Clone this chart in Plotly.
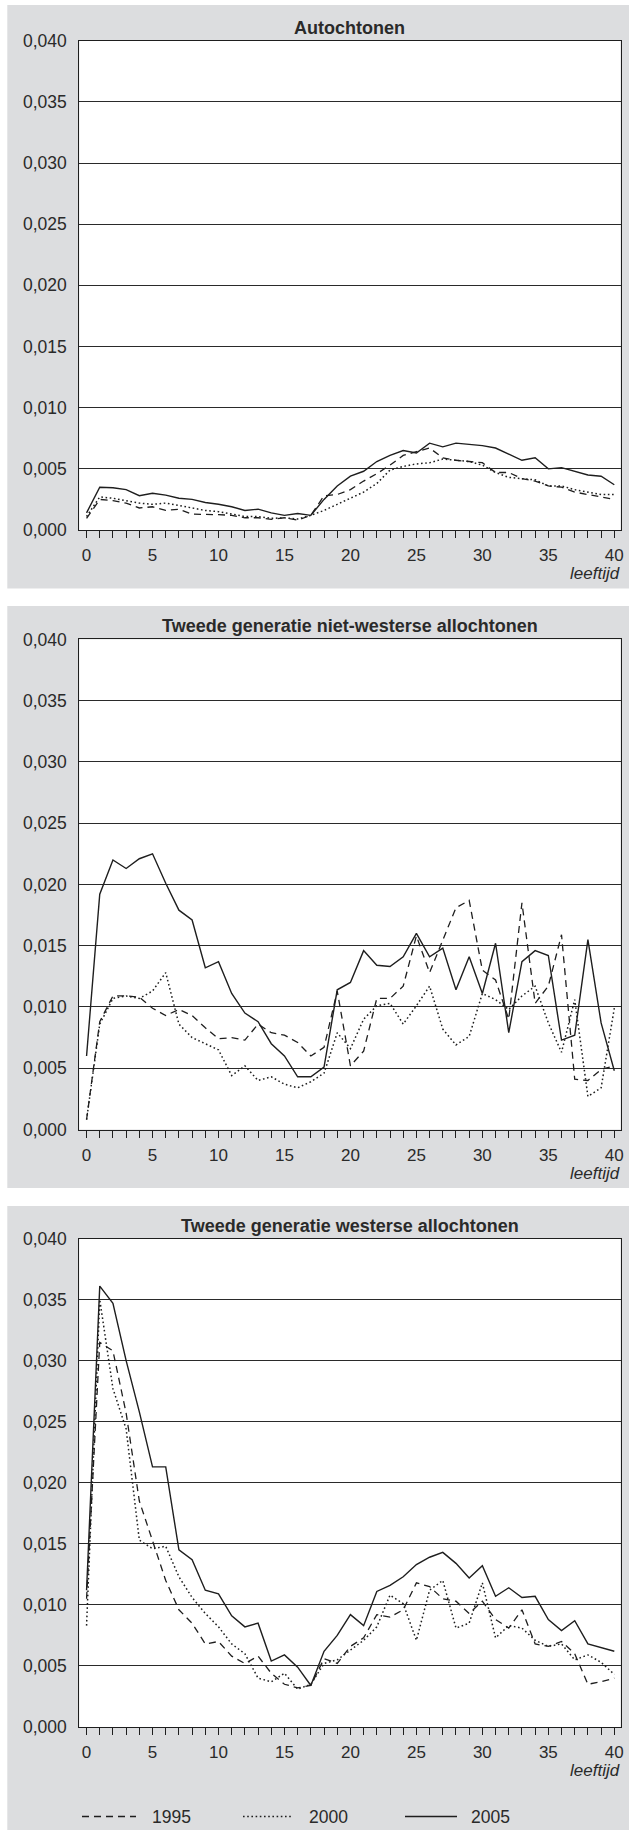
import plotly.graph_objects as go

W, H = 629, 1830

ages = list(range(0, 41))

panel_titles = [
    "Autochtonen",
    "Tweede generatie niet-westerse allochtonen",
    "Tweede generatie westerse allochtonen",
]
years = ["1995", "2000", "2005"]

# Panel 1: Autochtonen
auto_1995 = [0.00095, 0.0025, 0.0024, 0.0022, 0.0018, 0.0019, 0.0016, 0.0017, 0.0013, 0.0013,
             0.00125, 0.0012, 0.0010, 0.0010, 0.00087, 0.0010, 0.0008, 0.0012, 0.0028, 0.0029,
             0.0033, 0.0040, 0.0046, 0.0053, 0.0061, 0.0064, 0.0067, 0.0059, 0.0057, 0.0056,
             0.0055, 0.0047, 0.0047, 0.0042, 0.0040, 0.0036, 0.0035, 0.0031, 0.0029, 0.0027, 0.0025]
auto_2000 = [0.0011, 0.0027, 0.0026, 0.0024, 0.0022, 0.0021, 0.0022, 0.0020, 0.0018, 0.0016,
             0.0015, 0.0013, 0.0011, 0.0011, 0.00095, 0.0010, 0.0009, 0.0012, 0.0016, 0.0021,
             0.0026, 0.0031, 0.0038, 0.0049, 0.0052, 0.0054, 0.0055, 0.0058, 0.0057, 0.0056,
             0.0053, 0.0047, 0.0043, 0.0042, 0.0041, 0.0036, 0.0036, 0.0033, 0.0031, 0.0029, 0.0029]
auto_2005 = [0.0014, 0.0035, 0.00345, 0.0033, 0.0028, 0.0030, 0.00285, 0.0026, 0.0025, 0.00225,
             0.0021, 0.0019, 0.0016, 0.0017, 0.0014, 0.0012, 0.00135, 0.0012, 0.0025, 0.0036,
             0.0044, 0.0048, 0.0056, 0.0061, 0.0065, 0.0063, 0.0071, 0.0068, 0.0071, 0.0070,
             0.0069, 0.0067, 0.0062, 0.0057, 0.0059, 0.0050, 0.0051, 0.0048, 0.0045, 0.0044, 0.0037]

# Panel 2: Tweede generatie niet-westerse allochtonen
nw_1995 = [0.0008, 0.0088, 0.0109, 0.0109, 0.0108, 0.0099, 0.0093, 0.0098, 0.0093, 0.0083,
           0.0074, 0.0075, 0.0073, 0.0086, 0.0079, 0.0077, 0.0071, 0.0060, 0.0067, 0.0113,
           0.0052, 0.0064, 0.0107, 0.0107, 0.0117, 0.0158, 0.0128, 0.0155, 0.0181, 0.0187,
           0.0130, 0.0122, 0.0090, 0.0185, 0.0103, 0.0117, 0.0159, 0.0041, 0.0040, 0.0049, 0.0052]
nw_2000 = [0.0008, 0.0086, 0.0107, 0.0109, 0.0107, 0.0113, 0.0128, 0.0086, 0.0075, 0.0070,
           0.0065, 0.0044, 0.0052, 0.0040, 0.0043, 0.0037, 0.0034, 0.0039, 0.0046, 0.0079,
           0.0066, 0.0090, 0.0101, 0.0103, 0.0086, 0.0101, 0.0117, 0.0082, 0.0069, 0.0076,
           0.0111, 0.0106, 0.0098, 0.0109, 0.0117, 0.0087, 0.0063, 0.0106, 0.0027, 0.0034, 0.0099]
nw_2005 = [0.0060, 0.0192, 0.0220, 0.0213, 0.0221, 0.0225, 0.0201, 0.0179, 0.0171, 0.0132,
           0.0137, 0.0111, 0.0095, 0.0088, 0.0070, 0.0060, 0.0043, 0.0043, 0.0051, 0.0114,
           0.0120, 0.0146, 0.0134, 0.0133, 0.0141, 0.0160, 0.0141, 0.0148, 0.0114, 0.0141,
           0.0111, 0.0152, 0.0079, 0.0137, 0.0146, 0.0142, 0.0073, 0.0077, 0.0155, 0.0087, 0.0048]

# Panel 3: Tweede generatie westerse allochtonen
w_1995 = [0.0105, 0.0315, 0.0308, 0.0257, 0.0185, 0.0152, 0.0120, 0.0096, 0.0085, 0.0068,
          0.0070, 0.0058, 0.0052, 0.0058, 0.0044, 0.0035, 0.0032, 0.0034, 0.0056, 0.0052,
          0.0066, 0.0073, 0.0092, 0.0090, 0.0096, 0.0118, 0.0115, 0.0105, 0.0103, 0.0093,
          0.0103, 0.0088, 0.0081, 0.0096, 0.0068, 0.0066, 0.0070, 0.0060, 0.0035, 0.0037, 0.0040]
w_2000 = [0.0083, 0.0350, 0.0277, 0.0244, 0.0153, 0.0146, 0.0148, 0.0123, 0.0106, 0.0093,
          0.0082, 0.0068, 0.0060, 0.0040, 0.0037, 0.0044, 0.0031, 0.0035, 0.0052, 0.0055,
          0.0063, 0.0071, 0.0082, 0.0108, 0.0101, 0.0071, 0.0112, 0.0120, 0.0081, 0.0085,
          0.0118, 0.0073, 0.0083, 0.0081, 0.0071, 0.0066, 0.0068, 0.0055, 0.0059, 0.0053, 0.0043]
w_2005 = [0.0112, 0.0361, 0.0347, 0.0300, 0.0258, 0.0213, 0.0213, 0.0145, 0.0137, 0.0112,
          0.0109, 0.0091, 0.0082, 0.0085, 0.0054, 0.0059, 0.0049, 0.0034, 0.0062, 0.0075,
          0.0092, 0.0083, 0.0111, 0.0116, 0.0123, 0.0133, 0.0139, 0.0143, 0.0134, 0.0122,
          0.0132, 0.0107, 0.0114, 0.0106, 0.0107, 0.0088, 0.0079, 0.0087, 0.0068, 0.0065, 0.0062]

y_tick_vals = [0.000, 0.005, 0.010, 0.015, 0.020, 0.025, 0.030, 0.035, 0.040]
y_tick_labels = ["0,000", "0,005", "0,010", "0,015", "0,020", "0,025", "0,030", "0,035", "0,040"]
x_tick_vals = list(range(0, 41))
x_tick_labels = [str(v) if v % 5 == 0 else "" for v in x_tick_vals]
x_axis_label = "leeftijd"

panels = [
    [auto_1995, auto_2000, auto_2005],
    [nw_1995, nw_2000, nw_2005],
    [w_1995, w_2000, w_2005],
]

# ---- styling ----
FONT = "Liberation Sans, Arial, Helvetica, sans-serif"
INK = "#1e1e1e"
TXT = "#2a2a2a"
BG = "#dcdddf"
dash_styles = ["7px,5px", "1.6px,2.6px", "solid"]
line_widths = [1.3, 1.5, 1.4]

# pixel layout (top/bottom of each plot area in px from top)
px_left, px_right = 79.3, 620.5
panel_px = [(40.7, 530.0), (639.4, 1129.5), (1238.5, 1727.0)]


def ypap(py):
    return 1 - py / H


fig = go.Figure()

for i, series in enumerate(panels):
    n = "" if i == 0 else str(i + 1)
    for j, vals in enumerate(series):
        fig.add_trace(go.Scatter(
            x=ages, y=vals, mode="lines", name=years[j],
            line=dict(color=INK, width=line_widths[j], dash=dash_styles[j]),
            xaxis="x" + n, yaxis="y" + n, showlegend=False,
            hoverinfo="skip",
        ))
    top, bot = panel_px[i]
    fig.update_layout(**{
        "xaxis" + n: dict(
            domain=[px_left / W, px_right / W], range=[-0.55, 40.47],
            anchor="y" + n, tickmode="array", tickvals=x_tick_vals, ticktext=x_tick_labels,
            ticks="outside", ticklen=7, tickwidth=1, tickcolor=INK,
            showgrid=False, zeroline=False, showline=True, linecolor=INK, linewidth=1,
            mirror=True, tickfont=dict(family=FONT, size=17, color=TXT),
            ticklabelstandoff=3, fixedrange=True,
        ),
        "yaxis" + n: dict(
            domain=[ypap(bot), ypap(top)], range=[0, 0.04], anchor="x" + n,
            tickmode="array", tickvals=y_tick_vals, ticktext=y_tick_labels,
            ticks="", showgrid=True, gridcolor="#2a2a2a", gridwidth=1,
            zeroline=False, showline=True, linecolor=INK, linewidth=1, mirror=True,
            tickfont=dict(family=FONT, size=17.5, color=TXT),
            ticklabelstandoff=8, fixedrange=True,
        ),
    })
    # panel title
    fig.add_annotation(
        text="<b>" + panel_titles[i] + "</b>", xref="paper", yref="paper",
        x=(px_left + px_right) / 2 / W, y=ypap(top - 1), xanchor="center", yanchor="bottom",
        showarrow=False, font=dict(family=FONT, size=18, color=TXT),
    )
    # axis label
    fig.add_annotation(
        text=x_axis_label, xref="paper", yref="paper",
        x=622 / W, y=ypap(bot + 43.5), xanchor="right", yanchor="middle",
        showarrow=False, font=dict(family=FONT, size=17, color=TXT, style="italic"),
    )

# white gutters around / between the gray panels (paper is gray)
white_bands = [(0, 5), (588.5, 606), (1188, 1206)]
shapes = [dict(type="rect", xref="paper", yref="paper", x0=0, x1=7.3 / W, y0=0, y1=1,
               fillcolor="white", line=dict(width=0), layer="below")]
for a, b in white_bands:
    shapes.append(dict(type="rect", xref="paper", yref="paper", x0=0, x1=1,
                       y0=ypap(b), y1=ypap(a), fillcolor="white", line=dict(width=0),
                       layer="below"))

# manual legend
leg_y = ypap(1816.5)
leg_lines = [(82, 136), (243, 292), (405, 457)]
leg_text_x = [150, 307, 469]
for j in range(3):
    x0, x1 = leg_lines[j]
    shapes.append(dict(type="line", xref="paper", yref="paper", x0=x0 / W, x1=x1 / W,
                       y0=leg_y, y1=leg_y,
                       line=dict(color=INK, width=line_widths[j], dash=dash_styles[j])))
    fig.add_annotation(text=years[j], xref="paper", yref="paper", x=leg_text_x[j] / W, y=leg_y,
                       xanchor="left", yanchor="middle", showarrow=False,
                       font=dict(family=FONT, size=17.5, color=TXT))

fig.update_layout(
    width=W, height=H, margin=dict(l=0, r=0, t=0, b=0, autoexpand=False),
    paper_bgcolor=BG, plot_bgcolor="white", shapes=shapes, showlegend=False,
)

fig.write_html(
    "out.html",
    config={"displayModeBar": False},
    post_script="document.body.style.margin='0';document.body.style.padding='0';"
                "document.body.style.overflow='hidden';"
                "document.documentElement.style.overflow='hidden';",
)
